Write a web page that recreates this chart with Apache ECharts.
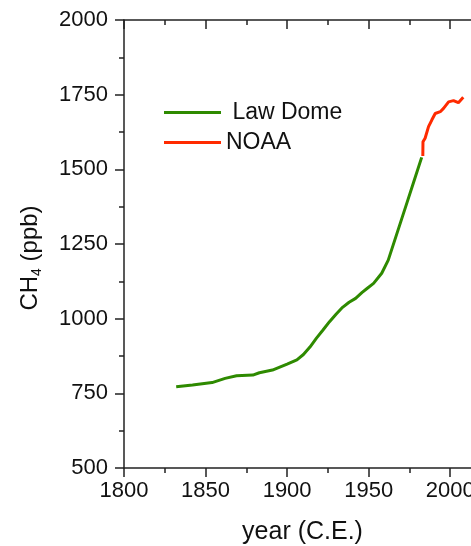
<!DOCTYPE html>
<html>
<head>
<meta charset="utf-8">
<script src="https://cdn.jsdelivr.net/npm/echarts@6/dist/echarts.min.js"></script>
<style>
html,body{margin:0;padding:0;background:#fff;}
#chart{width:471px;height:546px;}
</style>
</head>
<body>
<div id="chart"></div>
<script>
const lawDomeYears  = [1832,1842,1854,1862,1869,1879,1883,1891,1900,1906,1910,1914,1918,1922,1926,1930,1934,1938,1942,1946,1949,1953,1958,1962,1966,1970,1974,1978,1982.5];
const lawDomeValues = [772, 778, 786, 800, 809, 811, 819, 828, 848, 862, 880, 905, 935, 962, 990,1015,1038,1055,1068,1088,1101,1118,1152,1196,1263,1330,1397,1464,1540];
const noaaYears  = [1983.2,1983.3,1984.6,1986.7,1988.7,1990.8,1993.9,1995.9,1999,2002,2005,2008];
const noaaValues = [1545, 1592, 1604, 1643, 1665, 1687, 1693, 1704, 1726,1730,1723,1741];
const yTicks = [500, 2000, 250];
const xRange = [1800, 2025, 50];

const FONT = '"Liberation Sans", Arial, Helvetica, sans-serif';
const chart = echarts.init(document.getElementById('chart'));
const pair = (xs, ys) => xs.map((x, i) => [x, ys[i]]);
const axisLine = {show: true, lineStyle: {color: '#222', width: 1.5}};
const plain = v => String(v);

chart.setOption({
  animation: false,
  backgroundColor: '#fff',
  textStyle: {fontFamily: FONT},
  grid: {left: 124, top: 20, width: 367, height: 448, containLabel: false, outerBoundsMode: 'none'},
  legend: {
    left: 164, top: 101, padding: 0, orient: 'vertical', itemWidth: 57, itemHeight: 3, itemGap: 7,
    icon: 'rect',
    formatter: n => n === 'Law Dome' ? ' ' + n : n,
    textStyle: {fontSize: 23, color: '#111', fontFamily: FONT, lineHeight: 22, padding: [0,0,0,0]},
    data: ['Law Dome', 'NOAA']
  },
  xAxis: [{
    type: 'value', min: xRange[0], max: xRange[1], interval: xRange[2],
    position: 'bottom',
    axisLine: axisLine,
    axisTick: {show: true, length: 9, lineStyle: {color: '#222', width: 1.5}},
    minorTick: {show: true, splitNumber: 2, length: 5, lineStyle: {color: '#222', width: 1.5}},
    splitLine: {show: false},
    axisLabel: {fontSize: 22, color: '#111', margin: 12, showMaxLabel: false, fontFamily: FONT, formatter: plain},
    name: 'year (C.E.)', nameLocation: 'middle', nameGap: 52,
    nameTextStyle: {fontSize: 25, color: '#111', fontFamily: FONT, padding: [0, 10, 0, 0]}
  }, {
    type: 'value', min: xRange[0], max: xRange[1], interval: xRange[2],
    position: 'top',
    axisLine: axisLine,
    axisTick: {show: true, inside: true, length: 9, lineStyle: {color: '#222', width: 1.5}},
    minorTick: {show: true, splitNumber: 2, length: 5, lineStyle: {color: '#222', width: 1.5}},
    splitLine: {show: false},
    axisLabel: {show: false}
  }],
  yAxis: {
    type: 'value', min: yTicks[0], max: yTicks[1], interval: yTicks[2],
    axisLine: axisLine,
    axisTick: {show: true, length: 9, lineStyle: {color: '#222', width: 1.5}},
    minorTick: {show: true, splitNumber: 2, length: 5, lineStyle: {color: '#222', width: 1.5}},
    splitLine: {show: false},
    axisLabel: {fontSize: 22, color: '#111', margin: 16, fontFamily: FONT, formatter: plain},
    name: '{a|CH}{s|4}{a| (ppb)}', nameLocation: 'middle', nameGap: 80,
    nameTextStyle: {
      color: '#111', fontFamily: FONT, padding: [0, 0, 0, -28],
      rich: {
        a: {fontSize: 24, color: '#111', fontFamily: FONT, lineHeight: 28},
        s: {fontSize: 14, color: '#111', fontFamily: FONT, lineHeight: 28, verticalAlign: 'bottom', padding: [10, 0, 0, 0]}
      }
    }
  },
  series: [{
    name: 'Law Dome', type: 'line', xAxisIndex: 0, data: pair(lawDomeYears, lawDomeValues),
    showSymbol: false, symbol: 'none', lineStyle: {color: '#2e8a00', width: 3}, itemStyle: {color: '#2e8a00'}
  }, {
    name: 'NOAA', type: 'line', xAxisIndex: 0, data: pair(noaaYears, noaaValues),
    showSymbol: false, symbol: 'none', lineStyle: {color: '#ff2a00', width: 3}, itemStyle: {color: '#ff2a00'}
  }]
});
</script>
</body>
</html>
